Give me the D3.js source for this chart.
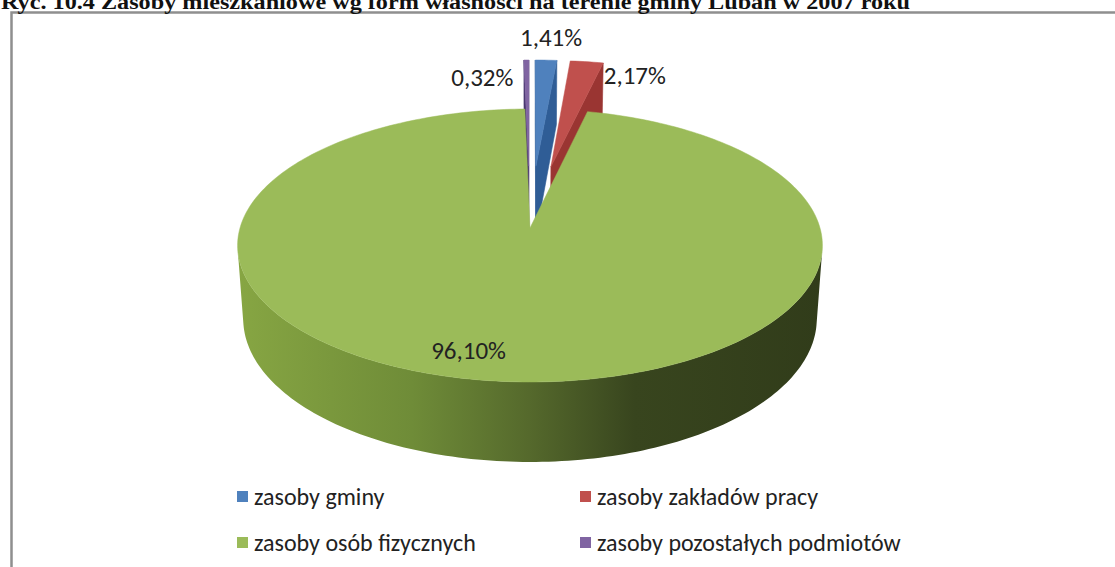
<!DOCTYPE html>
<html>
<head>
<meta charset="utf-8">
<script src="https://cdn.jsdelivr.net/npm/d3@7"></script>
<style>
	body { margin: 0; background: #fff; }
	svg { display: block; }
	.title { font-family: 'Liberation Serif', 'Times New Roman', serif; font-weight: bold; font-size: 20px; fill: #111; }
	.lbl { font-family: Carlito, Calibri, Lato, sans-serif; font-size: 25px; fill: #222; }
	.legend text { font-family: Carlito, Calibri, Lato, sans-serif; font-size: 24px; fill: #222; }
</style>
</head>
<body>
<div id="chart"></div>
<script>
let width = 1115
let height = 567

let title = 'Ryc. 10.4 Zasoby mieszkaniowe wg form własności na terenie gminy Lubań w 2007 roku'
let categories = ['zasoby gminy', 'zasoby zakładów pracy', 'zasoby osób fizycznych', 'zasoby pozostałych podmiotów']
let values = [1.41, 2.17, 96.10, 0.32]

let colors = ['#4f81bd', '#c0504d', '#9bbb59', '#8064a2']
let darkColors = ['#2f5d96', '#9a3532', '#4f6428', '#4a3770']
let explode = [0.49, 0.49, 0, 0.49]

// 3d look
let pie3d = {
	cx: 530,
	cy: 228,
	r: 290,
	sinT: 0.463,
	cosT: 0.886,
	persp: 0.1445,
	depth: 0.289,
}

// label placement relative to slice anchor
let labelPos = [
	{ r: 1, dx: 5, dy: -14, anchor: 'middle' },
	{ r: 1, dx: 17, dy: 22, anchor: 'start' },
	{ r: 0.8, dx: -35, dy: 12, anchor: 'middle' },
	{ r: 1, dx: -13, dy: 26, anchor: 'end' },
]

let svg = d3.select('#chart').append('svg')
	.attr('width', width)
	.attr('height', height)

let defs = svg.append('defs')
let grad = defs.append('linearGradient')
	.attr('id', 'side-green')
	.attr('gradientUnits', 'userSpaceOnUse')
	.attr('x1', 236).attr('x2', 822).attr('y1', 0).attr('y2', 0)
grad.selectAll('stop')
	.data([[0, '#87a643'], [0.3, '#6f8c38'], [0.5, '#55692c'], [0.68, '#38451e'], [1, '#313c1a']])
	.enter().append('stop')
	.attr('offset', d => d[0])
	.attr('stop-color', d => d[1])

svg.append('rect')
	.attr('x', 11.5)
	.attr('y', 12.5)
	.attr('width', 1200)
	.attr('height', 700)
	.attr('fill', 'none')
	.attr('stroke', '#8f8f8f')
	.attr('stroke-width', 2.5)

svg.append('text')
	.attr('class', 'title')
	.attr('x', 1)
	.attr('y', 9)
	.attr('textLength', 909)
	.attr('lengthAdjust', 'spacingAndGlyphs')
	.text(title)

// world (x, up, z toward viewer) -> screen
let proj = (X, Y, Z) => {
	let v = Z * pie3d.sinT - Y * pie3d.cosT
	let d = Z * pie3d.cosT + Y * pie3d.sinT
	let s = 1 / (1 - pie3d.persp * d)
	return [pie3d.cx + pie3d.r * X * s, pie3d.cy + pie3d.r * v * s]
}

let area = (pts) => {
	let a = 0
	for (let i = 0; i < pts.length; i++) {
		let p = pts[i], q = pts[(i + 1) % pts.length]
		a += p[0] * q[1] - q[0] * p[1]
	}
	return a / 2
}

let line = d3.line()

let pie = d3.pie().sort(null).value(d => d)
let arcs = pie(values).map((a, i) => {
	let mid = (a.startAngle + a.endAngle) / 2
	return {
		i: i,
		a0: a.startAngle,
		a1: a.endAngle,
		mid: mid,
		ox: explode[i] * Math.sin(mid),
		oz: -explode[i] * Math.cos(mid),
	}
})

// back slices first
let order = arcs.slice().sort((p, q) => (-Math.cos(p.mid)) - (-Math.cos(q.mid)))

let marks = svg.append('g')

order.forEach(s => {
	let g = marks.append('g')
	let n = Math.max(4, Math.ceil((s.a1 - s.a0) / 0.02))
	let angles = d3.range(n + 1).map(k => s.a0 + (s.a1 - s.a0) * k / n)
	let top = (r, t) => proj(s.ox + r * Math.sin(t), 0, s.oz - r * Math.cos(t))
	let bot = (r, t) => proj(s.ox + r * Math.sin(t), -pie3d.depth, s.oz - r * Math.cos(t))

	let drawFace = (f, fill) => {
		g.append('path')
			.attr('d', line(f) + 'Z')
			.attr('fill', fill)
			.attr('stroke', fill)
			.attr('stroke-width', 0.6)
	}

	// radial faces
	let f0 = [top(0, s.a0), top(1, s.a0), bot(1, s.a0), bot(0, s.a0)]
	let f1 = [top(0, s.a1), bot(0, s.a1), bot(1, s.a1), top(1, s.a1)]
	if (area(f0) < 0) drawFace(f0, darkColors[s.i])
	if (area(f1) < 0) drawFace(f1, darkColors[s.i])

	// outer wall, visible runs merged into one shape
	let vis = d3.range(n).map(k => area([top(1, angles[k]), top(1, angles[k + 1]), bot(1, angles[k + 1]), bot(1, angles[k])]) < 0)
	let wallFill = s.i === 2 ? 'url(#side-green)' : darkColors[s.i]
	let k = 0
	while (k < n) {
		if (!vis[k]) { k++; continue }
		let start = k
		while (k < n && vis[k]) k++
		let run = angles.slice(start, k + 1)
		let pts = run.map(t => top(1, t)).concat(run.slice().reverse().map(t => bot(1, t)))
		g.append('path')
			.attr('d', line(pts) + 'Z')
			.attr('fill', wallFill)
	}

	let topPts = [top(0, s.a0)].concat(angles.map(t => top(1, t)))
	g.append('path')
		.attr('d', line(topPts) + 'Z')
		.attr('fill', colors[s.i])
		.attr('stroke', colors[s.i])
		.attr('stroke-width', 0.5)
})

// data labels
let fmt = d3.format('.2f')
let anchorPt = (d) => {
	let L = labelPos[d.i]
	let p = proj(d.ox + L.r * Math.sin(d.mid), 0, d.oz - L.r * Math.cos(d.mid))
	return [p[0] + L.dx, p[1] + L.dy]
}
svg.append('g').selectAll('text')
	.data(arcs)
	.enter().append('text')
	.attr('class', 'lbl')
	.attr('x', d => anchorPt(d)[0])
	.attr('y', d => anchorPt(d)[1])
	.attr('text-anchor', d => labelPos[d.i].anchor)
	.text(d => fmt(values[d.i]).replace('.', ',') + '%')

// legend
let legendX = d3.scaleOrdinal().domain([0, 1]).range([237, 580])
let legendY = d3.scaleOrdinal().domain([0, 1]).range([497, 543])

let legend = svg.append('g').attr('class', 'legend')
let item = legend.selectAll('g')
	.data(categories)
	.enter().append('g')
	.attr('transform', (d, i) => `translate(${legendX(i % 2)},${legendY(Math.floor(i / 2))})`)

item.append('rect')
	.attr('x', 0)
	.attr('y', -6)
	.attr('width', 11)
	.attr('height', 11)
	.attr('fill', (d, i) => colors[i])

item.append('text')
	.attr('x', 17)
	.attr('y', 8)
	.text(d => d)
</script>
</body>
</html>
